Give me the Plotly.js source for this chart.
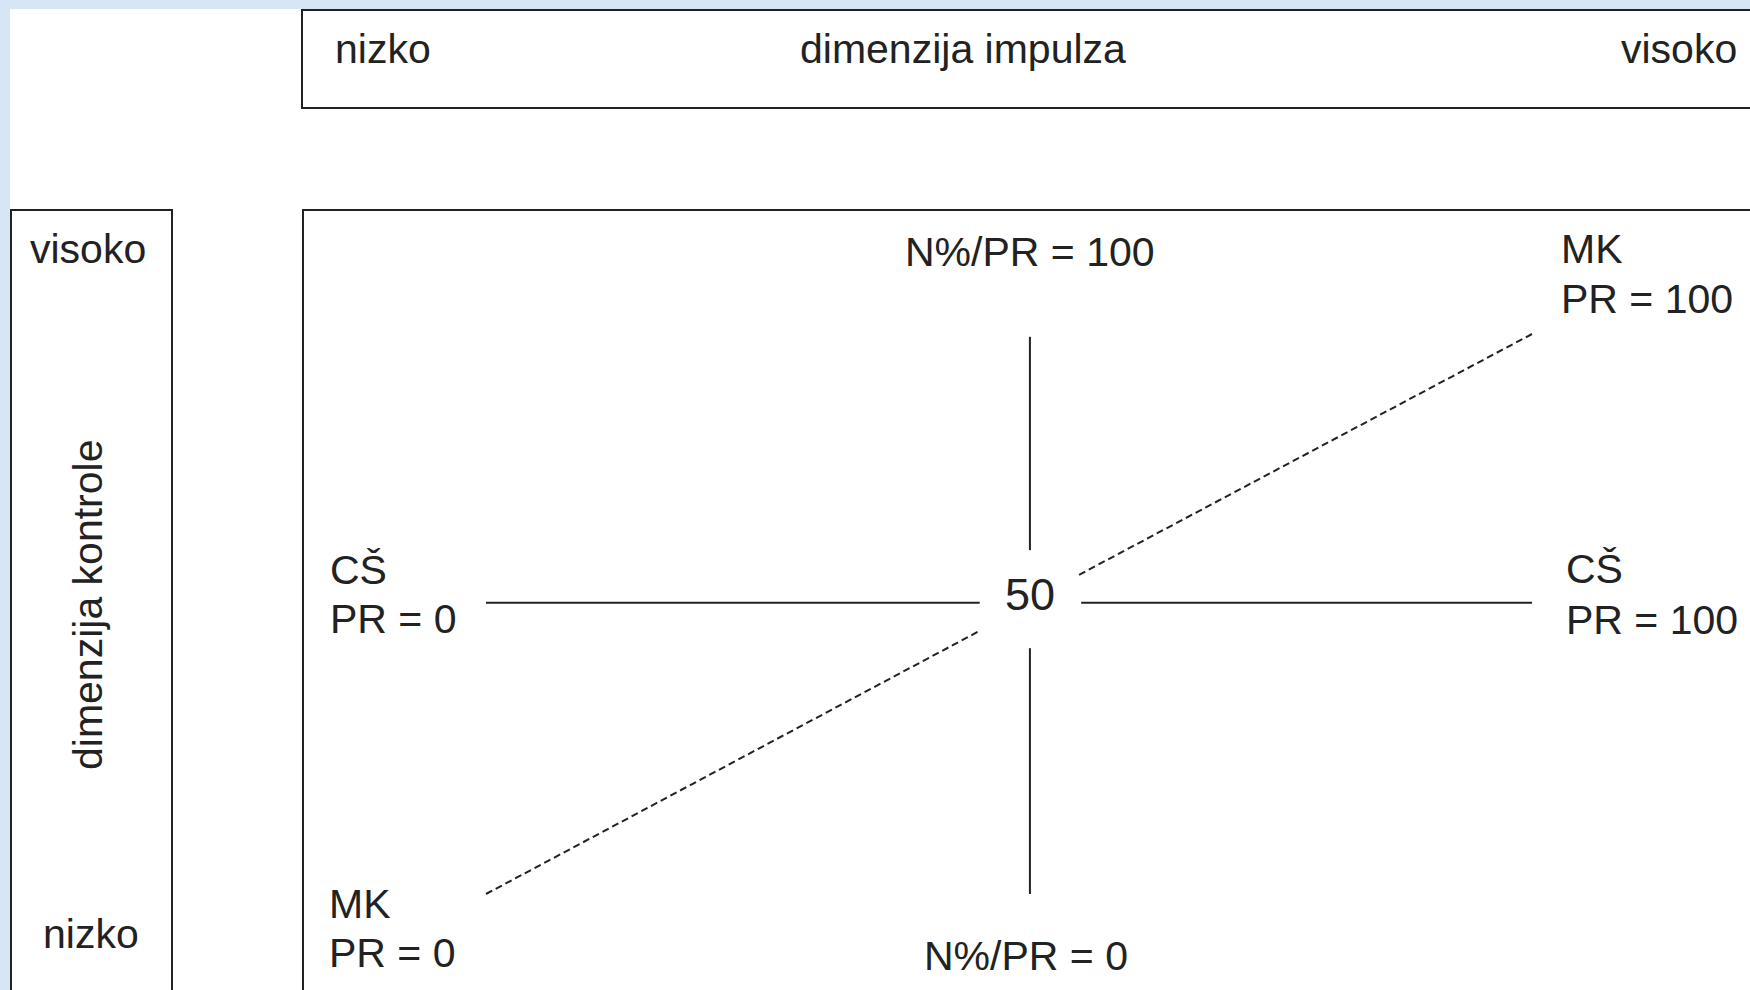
<!DOCTYPE html>
<html>
<head>
<meta charset="utf-8">
<script src="https://cdn.plot.ly/plotly-3.0.1.min.js"></script>
<style>html,body{margin:0;padding:0;background:#d6e6f7;}#chart{width:1750px;height:990px;}</style>
</head>
<body>
<div id="chart"></div>
<script>
// ---- data (PR scale 0..100 on both dimensions) ----
const impulseLabels = ["nizko", "dimenzija impulza", "visoko"];
const controlLabels = ["visoko", "dimenzija kontrole", "nizko"];
const centerLabel = "50";
const hLineX = [0, 47.2, null, 56.9, 100]; // CŠ axis (impulse)
const hLineY = [52, 52, null, 52, 52];
const vLineX = [52, 52, null, 52, 52];     // N% axis (control)
const vLineY = [99.5, 61.4, null, 43.9, 0];
const dLineX = [0, 47.3, null, 56.7, 100]; // MK diagonal
const dLineY = [0, 47.1, null, 57.0, 100];
const pointLabels = [
  ["N%/PR = 100"],
  ["MK", "PR = 100"],
  ["CŠ", "PR = 100"],
  ["CŠ", "PR = 0"],
  ["MK", "PR = 0"],
  ["N%/PR = 0"]
];

// ---- layout helpers ----
const W = 1750, H = 990;
const FONT = "Liberation Sans, Arial, Helvetica, sans-serif";
const INK = "#222222";
const X0 = 486, XS = 10.46;  // px at PR 0, px per PR
const Y0 = 894, YS = 5.6;
const px = v => v / W;
const py = v => 1 - v / H;

function ann(text, x, baseline, anchor, size, extra) {
  const s = size || 41;
  return Object.assign({
    text: text, xref: "paper", yref: "paper",
    x: px(x), y: py(baseline - 0.34 * s),
    xanchor: anchor, yanchor: "middle", showarrow: false,
    font: {family: FONT, size: s, color: INK}
  }, extra || {});
}

const annotations = [
  ann(impulseLabels[0], 333, 63, "left"),
  ann(impulseLabels[1], 963, 63, "center"),
  ann(impulseLabels[2], 1739, 63, "right"),
  ann(controlLabels[0], 88, 263, "center"),
  Object.assign(ann(controlLabels[1], 88, 605, "center"), {textangle: -90, y: py(605)}),
  ann(controlLabels[2], 91, 948, "center"),
  ann(centerLabel, 1030, 610, "center", 45),
  ann(pointLabels[0][0], 1030, 266, "center"),
  ann(pointLabels[1][0], 1559, 263, "left"),
  ann(pointLabels[1][1], 1559, 313, "left"),
  ann(pointLabels[2][0], 1564, 583, "left"),
  ann(pointLabels[2][1], 1564, 634, "left"),
  ann(pointLabels[3][0], 328, 584, "left"),
  ann(pointLabels[3][1], 328, 633, "left"),
  ann(pointLabels[4][0], 327, 918, "left"),
  ann(pointLabels[4][1], 327, 967, "left"),
  ann(pointLabels[5][0], 1026, 970, "center")
];

function rect(x0, y0, x1, y1, fill, lineW) {
  return {type: "rect", xref: "paper", yref: "paper",
    x0: px(x0), x1: px(x1), y0: py(y1), y1: py(y0),
    fillcolor: fill, line: {color: INK, width: lineW}, layer: "below"};
}

const shapes = [
  rect(10, 9, 1800, 1040, "#ffffff", 0),
  rect(302, 10, 1800, 108, "rgba(0,0,0,0)", 2),
  rect(303, 210, 1800, 1040, "rgba(0,0,0,0)", 2),
  rect(11, 210, 172, 1040, "rgba(0,0,0,0)", 2)
];

const traces = [
  {x: hLineX, y: hLineY, mode: "lines", line: {color: INK, width: 2}, hoverinfo: "skip", connectgaps: false},
  {x: vLineX, y: vLineY, mode: "lines", line: {color: INK, width: 2}, hoverinfo: "skip", connectgaps: false},
  {x: dLineX, y: dLineY, mode: "lines", line: {color: INK, width: 2, dash: "7px,4px"}, hoverinfo: "skip", connectgaps: false}
];

const layout = {
  width: W, height: H,
  margin: {l: 0, r: 0, t: 0, b: 0, pad: 0},
  paper_bgcolor: "#d6e6f7",
  plot_bgcolor: "rgba(0,0,0,0)",
  showlegend: false,
  xaxis: {range: [-X0 / XS, (W - X0) / XS], visible: false, fixedrange: true},
  yaxis: {range: [-(H - Y0) / YS, Y0 / YS], visible: false, fixedrange: true},
  shapes: shapes,
  annotations: annotations
};

Plotly.newPlot("chart", traces, layout, {displayModeBar: false, staticPlot: true});
</script>
</body>
</html>
